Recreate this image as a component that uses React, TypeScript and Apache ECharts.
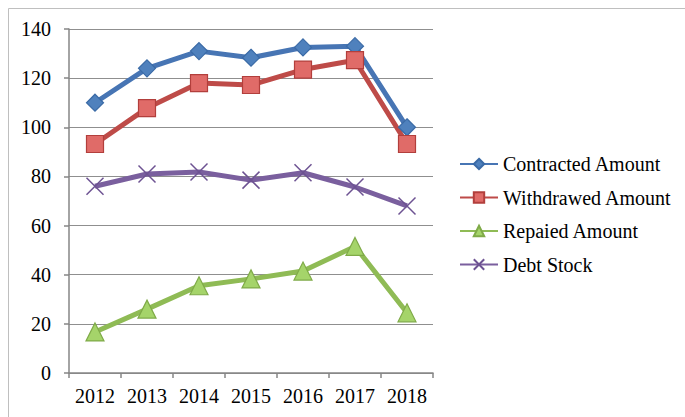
import React, { useEffect, useRef } from "react";
import * as echarts from "echarts";

const years = ["2012", "2013", "2014", "2015", "2016", "2017", "2018"];
const contracted = [110, 124, 131, 128.3, 132.5, 133, 100];
const withdrawed = [93.2, 107.8, 118, 117.2, 123.5, 127.3, 93.2];
const repaied = [16.7, 26, 35.5, 38.3, 41.5, 51.5, 24.5];
const debtStock = [76, 81, 81.8, 78.5, 81.5, 75.7, 68];
const seriesNames = ["Contracted Amount", "Withdrawed Amount", "Repaied Amount", "Debt Stock"];

const FONT = "Liberation Serif";
const crossPath = "path://M0,0 L10,10 M10,0 L0,10";

export default function App() {
  const ref = useRef<HTMLDivElement>(null);
  useEffect(() => {
    const chart = echarts.init(ref.current!, undefined, { renderer: "svg" });
    const mk = (name: string, data: number[], color: string, symbol: string, size: number, fill: string, border: string) => ({
      name,
      type: "line",
      data,
      symbol,
      symbolSize: size,
      lineStyle: { color, width: 5 },
      itemStyle: { color: fill, borderColor: border, borderWidth: 1.2 },
      emphasis: { disabled: true },
    });
    chart.setOption({
      animation: false,
      graphic: [
        {
          type: "rect",
          shape: { x: 8.5, y: 8.5, width: 700, height: 430 },
          style: { fill: "none", stroke: "#bfbfbf", lineWidth: 1 },
          silent: true,
        },
      ],
      grid: { left: 69, top: 29, right: 252, bottom: 44 },
      legend: {
        orient: "vertical",
        left: 459,
        top: 154,
        padding: 0,
        itemWidth: 38,
        itemHeight: 13,
        itemGap: 13.5,
        data: seriesNames,
        textStyle: { fontFamily: FONT, fontSize: 20, color: "#000", lineHeight: 20 },
      },
      xAxis: {
        type: "category",
        data: years,
        boundaryGap: true,
        axisLine: { lineStyle: { color: "#868686", width: 1.5 } },
        axisTick: { show: true, length: 5, lineStyle: { color: "#868686", width: 1.5 } },
        axisLabel: { fontFamily: FONT, fontSize: 20, color: "#000", margin: 13, interval: 0, hideOverlap: false },
      },
      yAxis: {
        type: "value",
        min: 0,
        max: 140,
        interval: 20,
        axisLine: { show: true, lineStyle: { color: "#868686", width: 1.5 } },
        axisTick: { show: true, length: 5, lineStyle: { color: "#868686", width: 1.5 } },
        splitLine: { lineStyle: { color: "#8f8f8f", width: 1 } },
        axisLabel: { fontFamily: FONT, fontSize: 20, color: "#000", margin: 18 },
      },
      series: [
        mk(seriesNames[0], contracted, "#4775b4", "diamond", 17, "#4f81bd", "#3a6aa6"),
        mk(seriesNames[1], withdrawed, "#be4b48", "rect", 17, "#e06b68", "#b23f3c"),
        mk(seriesNames[2], repaied, "#8fbb55", "triangle", 18, "#a5d46a", "#7faa48"),
        {
          ...mk(seriesNames[3], debtStock, "#7a5f9e", crossPath, 17, "none", "#6d5292"),
          itemStyle: { color: "#7a5f9e", borderColor: "#6d5292", borderWidth: 1.5 },
        },
      ],
    });
    return () => chart.dispose();
  }, []);
  return <div ref={ref} style={{ position: "absolute", left: 0, top: 0, width: 685, height: 417 }} />;
}
